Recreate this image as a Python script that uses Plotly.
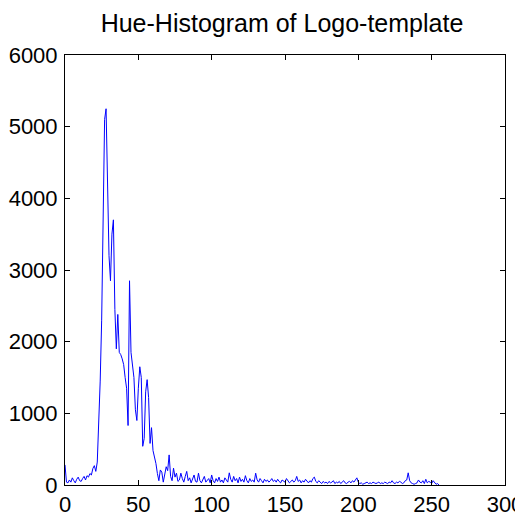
import plotly.graph_objects as go

hue_bins = list(range(256))
counts = [
    280, 40, 30, 70, 40, 100, 60, 30, 80, 110,
    60, 50, 90, 120, 70, 130, 110, 160, 140, 230,
    270, 190, 320, 850, 1450, 2300, 3850, 5100, 5250, 3950,
    3200, 2850, 3500, 3700, 2450, 1900, 2380, 1850, 1820, 1760,
    1680, 1500, 1350, 830, 2850, 1850, 1650, 1500, 1050, 900,
    1350, 1650, 1500, 540, 650, 1300, 1470, 1220, 580, 800,
    480, 390, 300, 160, 60, 210, 180, 40, 150, 255,
    200, 420, 120, 60, 235, 110, 165, 50, 70, 165,
    90, 40, 120, 190, 60, 100, 30, 80, 140, 50,
    40, 165, 60, 30, 80, 120, 40, 60, 90, 30,
    140, 60, 30, 90, 50, 110, 40, 70, 30, 100,
    60, 40, 170, 80, 40, 120, 60, 90, 30, 110,
    50, 80, 40, 130, 60, 30, 90, 50, 70, 40,
    165, 70, 40, 90, 60, 30, 80, 50, 70, 40,
    60, 90, 50, 70, 40, 80, 50, 30, 70, 60,
    40, 90, 60, 30, 50, 70, 40, 60, 120, 50,
    70, 30, 60, 40, 80, 50, 30, 60, 40, 90,
    110, 50, 30, 60, 40, 20, 50, 30, 40, 20,
    50, 30, 40, 60, 20, 40, 30, 50, 20, 40,
    60, 30, 20, 40, 50, 30, 60, 40, 80, 100,
    40, 20, 30, 10, 20, 30, 40, 20, 30, 20,
    40, 30, 20, 30, 40, 20, 30, 20, 40, 30,
    20, 40, 30, 60, 30, 20, 40, 30, 50, 40,
    20, 30, 60, 70, 170, 60, 30, 20, 10, 20,
    30, 70, 40, 30, 60, 20, 80, 30, 50, 40,
    20, 60, 30, 10, 20, 0,
]
title_text = "Hue-Histogram of Logo-template"
x_ticks = [0, 50, 100, 150, 200, 250, 300]
y_ticks = [0, 1000, 2000, 3000, 4000, 5000, 6000]

font_family = "Liberation Sans, Arial, Helvetica, sans-serif"

fig = go.Figure()
fig.add_trace(go.Scatter(
    x=hue_bins, y=counts, mode="lines",
    line=dict(color="#0000ff", width=1),
    showlegend=False, cliponaxis=False,
))

axis_common = dict(
    showline=True, linecolor="black", linewidth=1, mirror="ticks",
    ticks="inside", ticklen=5, tickcolor="black", tickwidth=1,
    showgrid=False, zeroline=False, automargin=False,
    ticklabeloverflow="allow",
    tickfont=dict(family=font_family, size=22, color="black"),
)

fig.update_layout(
    width=515, height=508,
    margin=dict(l=57, r=18, t=47, b=31),
    paper_bgcolor="white", plot_bgcolor="white",
    title=dict(text=title_text, x=0.532, xanchor="center",
               y=0.969, yanchor="middle",
               font=dict(family=font_family, size=25, color="black")),
    xaxis=dict(range=[0, 300], tickvals=x_ticks, ticklabelstandoff=0, **axis_common),
    yaxis=dict(range=[0, 6000], tickvals=y_ticks, ticklabelstandoff=2, **axis_common),
)

fig.write_html("out.html")
